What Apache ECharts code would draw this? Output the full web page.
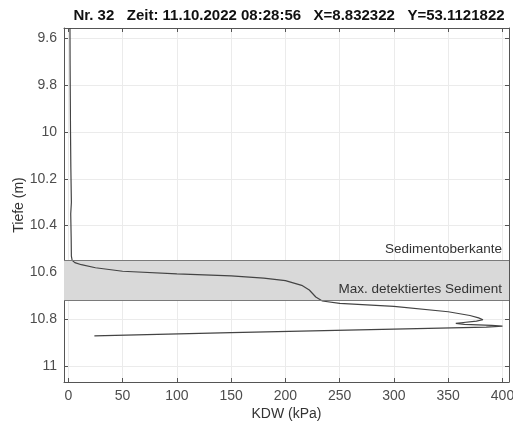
<!DOCTYPE html>
<html>
<head>
<meta charset="utf-8">
<script src="https://cdn.jsdelivr.net/npm/echarts@6/dist/echarts.min.js"></script>
<style>
  html, body { margin: 0; padding: 0; background: #fff; }
  #chart { width: 513px; height: 427px; }
</style>
</head>
<body>
<div id="chart"></div>
<script>
// Probe profile: cone resistance KDW (kPa) against depth (m)
const kdw = [1.5, 1.6, 1.8, 2.0, 2.3, 2.8, 2.2, 2.6, 2.8, 3.5, 6, 12, 25, 50, 100, 150, 180, 200, 215, 222, 228, 234, 250, 300, 350, 370, 378, 382, 376, 362, 357, 365, 390, 400, 385, 300, 150, 24];
const depth = [9.556, 9.7, 9.85, 10.0, 10.15, 10.3, 10.35, 10.45, 10.53, 10.548, 10.558, 10.567, 10.58, 10.595, 10.606, 10.615, 10.624, 10.635, 10.655, 10.675, 10.705, 10.722, 10.732, 10.745, 10.768, 10.784, 10.794, 10.802, 10.808, 10.815, 10.818, 10.822, 10.826, 10.829, 10.834, 10.842, 10.857, 10.871];

// Sediment horizons
const sedimentTop = 10.55;
const sedimentMax = 10.72;
const horizonLabels = ['Sedimentoberkante', 'Max. detektiertes Sediment'];

// Tick values
const xTicks = [0, 50, 100, 150, 200, 250, 300, 350, 400];
const yTicks = [9.6, 9.8, 10, 10.2, 10.4, 10.6, 10.8, 11];

const titleText = 'Nr. 32   Zeit: 11.10.2022 08:28:56   X=8.832322   Y=53.1121822';

const profile = kdw.map((v, i) => [v, depth[i]]);

const font = 'Liberation Sans, Arial, Helvetica, sans-serif';
const tickColor = '#4d4d4d';
const frameColor = '#555';

// Frame axes (top / right) mirror the ticks without labels
function frameAxis(extra) {
  return Object.assign({
    type: 'value',
    axisLine: { show: true, onZero: false, lineStyle: { color: frameColor, width: 1 } },
    splitLine: { show: false }
  }, extra);
}

const chart = echarts.init(document.getElementById('chart'), null, { renderer: 'canvas' });
chart.setOption({
  animation: false,
  backgroundColor: '#fff',
  title: {
    text: titleText,
    left: 284, top: 3, textAlign: 'center',
    textStyle: { fontFamily: font, fontSize: 15, fontWeight: 'bold', color: '#111' }
  },
  grid: { left: 64, right: 4, top: 28, bottom: 45, containLabel: false, outerBoundsMode: 'none' },
  xAxis: [{
    type: 'value', min: -4, max: 406,
    name: 'KDW (kPa)', nameLocation: 'middle', nameGap: 25, nameMoveOverlap: false,
    nameTextStyle: { fontFamily: font, fontSize: 14, color: '#333' },
    axisLine: { show: true, onZero: false, lineStyle: { color: frameColor, width: 1 } },
    axisTick: { show: true, inside: true, length: 4, customValues: xTicks, lineStyle: { color: frameColor } },
    axisLabel: { customValues: xTicks, margin: 7, fontFamily: font, fontSize: 14, color: tickColor },
    splitLine: { show: true, lineStyle: { color: '#ebebeb', width: 1 } }
  }, frameAxis({
    min: -4, max: 406, position: 'top',
    axisTick: { show: true, inside: true, length: 4, customValues: xTicks, lineStyle: { color: frameColor } },
    axisLabel: { show: false, customValues: xTicks }
  })],
  yAxis: [{
    type: 'value', inverse: true, min: 9.556, max: 11.068,
    name: 'Tiefe (m)', nameLocation: 'middle', nameGap: 38, nameRotate: 90, nameMoveOverlap: false,
    nameTextStyle: { fontFamily: font, fontSize: 14, color: '#333' },
    axisLine: { show: true, onZero: false, lineStyle: { color: frameColor, width: 1 } },
    axisTick: { show: true, inside: true, length: 4, customValues: yTicks, lineStyle: { color: frameColor } },
    axisLabel: { customValues: yTicks, margin: 7, fontFamily: font, fontSize: 14, color: tickColor },
    splitLine: { show: true, lineStyle: { color: '#ebebeb', width: 1 } }
  }, frameAxis({
    inverse: true, min: 9.556, max: 11.068, position: 'right',
    axisTick: { show: true, inside: true, length: 4, customValues: yTicks, lineStyle: { color: frameColor } },
    axisLabel: { show: false, customValues: yTicks }
  })],
  series: [{
    type: 'line',
    data: profile,
    showSymbol: false,
    lineStyle: { color: '#444', width: 1.2 },
    z: 3,
    markArea: {
      silent: true,
      itemStyle: { color: '#d9d9d9' },
      data: [[{ yAxis: sedimentTop }, { yAxis: sedimentMax }]]
    },
    markLine: {
      silent: true,
      symbol: 'none',
      lineStyle: { color: '#7a7a7a', type: 'solid', width: 1 },
      label: {
        position: 'insideEndTop',
        fontFamily: font, fontSize: 13.5, color: '#333', distance: [7, 4]
      },
      data: [
        { yAxis: sedimentTop, label: { formatter: horizonLabels[0] } },
        { yAxis: sedimentMax, label: { formatter: horizonLabels[1] } }
      ]
    }
  }]
});
</script>
</body>
</html>
